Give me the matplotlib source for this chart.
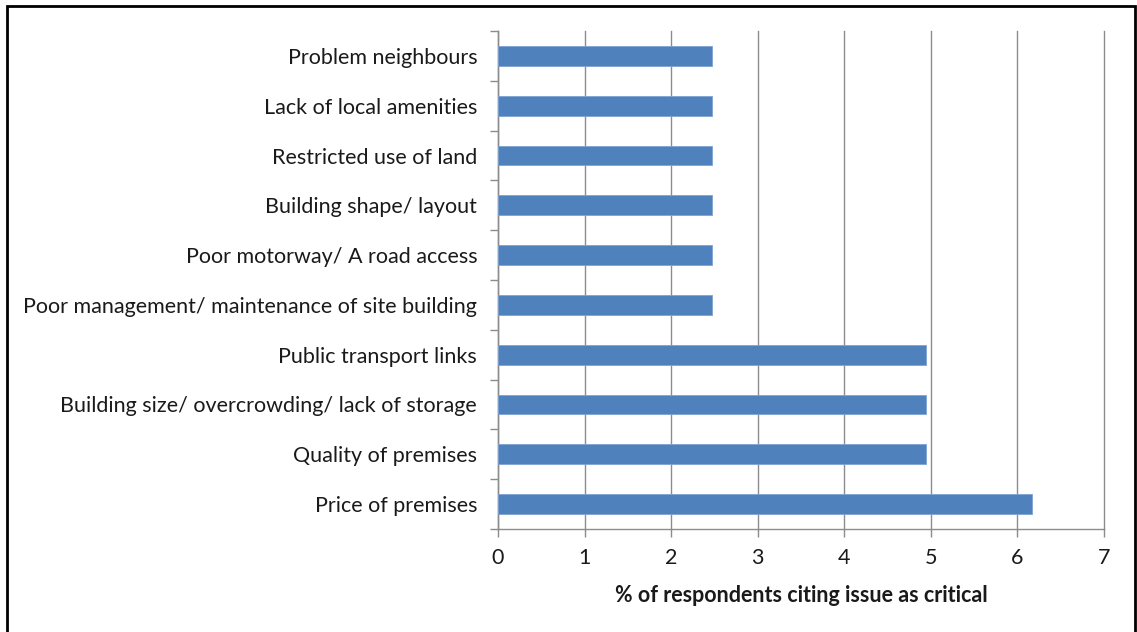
import matplotlib
matplotlib.use("Agg")
import matplotlib.pyplot as plt
from matplotlib.patches import Rectangle
from matplotlib.ticker import FixedLocator

plt.rcParams['font.family'] = ['Lato', 'DejaVu Sans']

categories = [
    "Price of premises",
    "Quality of premises",
    "Building size/ overcrowding/ lack of storage",
    "Public transport links",
    "Poor management/ maintenance of site building",
    "Poor motorway/ A road access",
    "Building shape/ layout",
    "Restricted use of land",
    "Lack of local amenities",
    "Problem neighbours",
]
values = [6.17, 4.94, 4.94, 4.94, 2.47, 2.47, 2.47, 2.47, 2.47, 2.47]
x_ticks = [0, 1, 2, 3, 4, 5, 6, 7]

W, H = 1137, 632
fig = plt.figure(figsize=(W / 100, H / 100), dpi=100)
ax = fig.add_axes([498 / W, 1 - 529 / H, (1104 - 498) / W, (529 - 31) / H])

pos = list(range(len(categories)))
ax.barh(pos, values, height=0.4, color="#4F81BD", edgecolor="#7FA3D3",
        linewidth=0.6, zorder=3)

ax.set_xlim(0, 7)
ax.set_ylim(-0.5, len(categories) - 0.5)
ax.set_xticks(x_ticks)
ax.set_xticklabels([str(t) for t in x_ticks])
ax.set_yticks(pos)
ax.set_yticklabels(categories)

grid_c = "#8C8C8C"
ax.grid(axis="x", color=grid_c, linewidth=1.0, zorder=0)
for gl in ax.get_xgridlines():
    gl.set_clip_on(False)
for side in ("top", "right"):
    ax.spines[side].set_visible(False)
for side in ("left", "bottom"):
    ax.spines[side].set_color(grid_c)
    ax.spines[side].set_linewidth(1.0)

# category-boundary ticks on the y axis
ax.yaxis.set_minor_locator(FixedLocator([p - 0.5 for p in range(len(categories) + 1)]))
ax.tick_params(axis="y", which="major", length=0, pad=15, labelsize=15.5,
               labelcolor="#1A1A1A")
ax.tick_params(axis="y", which="minor", length=6, width=1.0, color=grid_c,
               direction="out")
ax.tick_params(axis="x", which="major", length=6, width=1.0, color=grid_c,
               direction="out", pad=8, labelsize=15.5, labelcolor="#1A1A1A")

ax.set_xlabel("% of respondents citing issue as critical", fontsize=15.5,
              fontweight="bold", color="#1A1A1A", labelpad=12)

# outer chart frame
fig.patches.append(Rectangle((7 / W, -0.05), (1135 - 7) / W, 1 - 6 / H + 0.05,
                             transform=fig.transFigure, fill=False,
                             edgecolor="black", linewidth=2.0))

fig.savefig("out.png", dpi=100, facecolor="white")
